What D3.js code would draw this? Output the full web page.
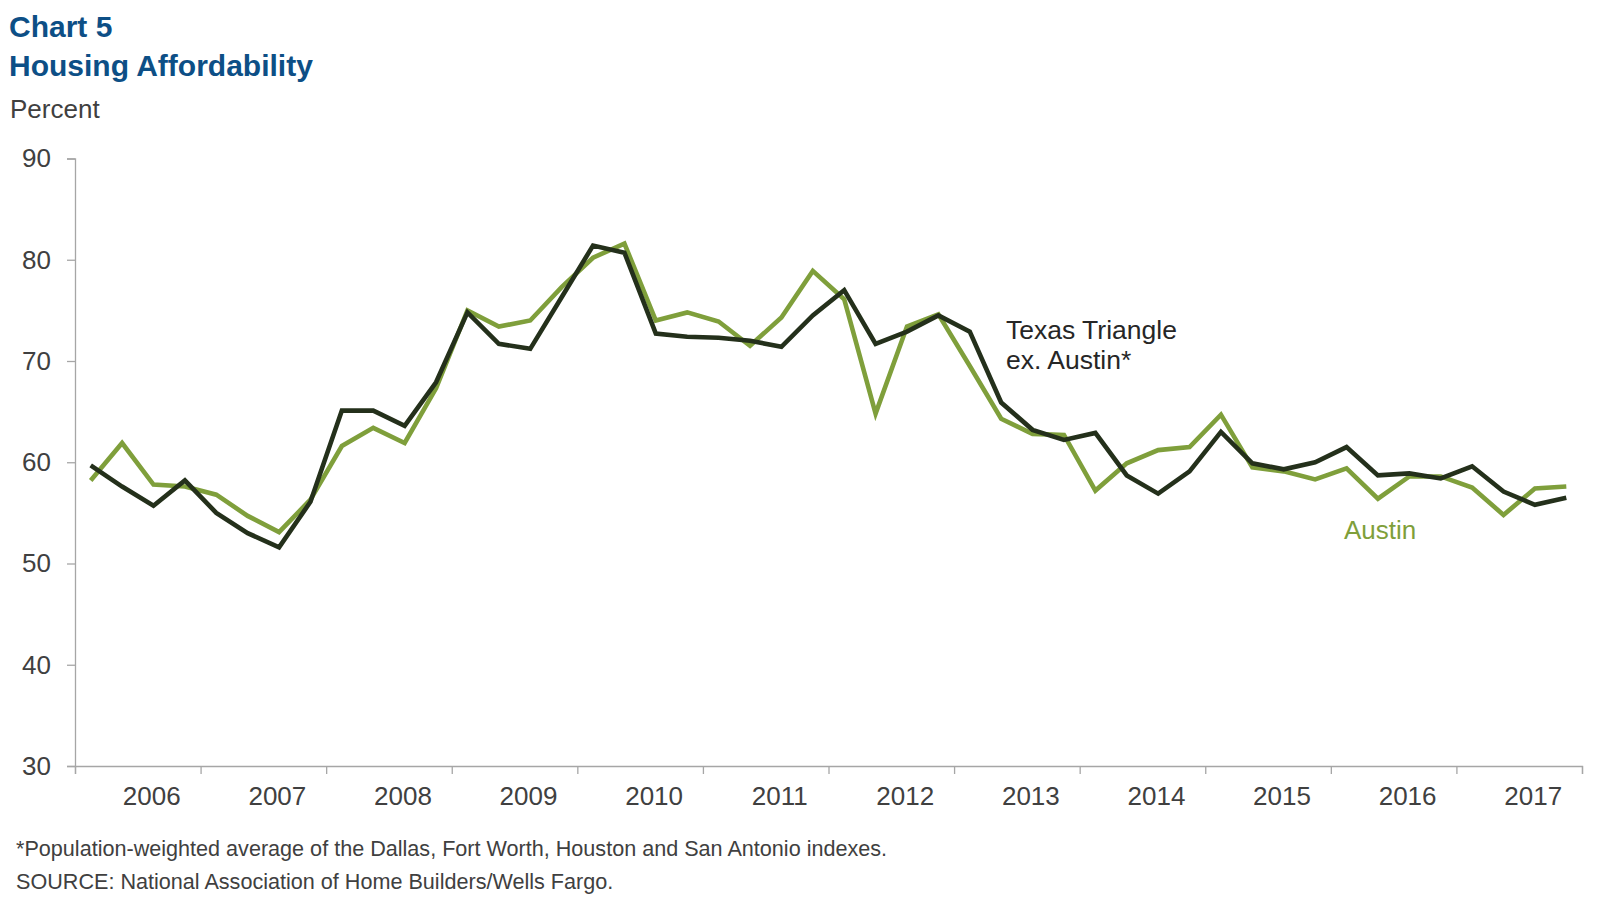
<!DOCTYPE html>
<html>
<head>
<meta charset="utf-8">
<script src="https://cdn.jsdelivr.net/npm/d3@7"></script>
<style>
  html, body { margin: 0; padding: 0; background: #fff; }
  svg { display: block; font-family: Arial, "Liberation Sans", sans-serif; }
</style>
</head>
<body>
<svg id="chart" width="1614" height="914"></svg>
<script>
// ---- Data (quarterly, 2006Q1 – 2017Q4) ----
const years = ["2006","2007","2008","2009","2010","2011","2012","2013","2014","2015","2016","2017"];
const austin = [
  58.2, 61.9, 57.8, 57.6,  56.8, 54.7, 53.1, 56.3,
  61.6, 63.4, 61.9, 67.3,  75.0, 73.4, 74.0, 77.3,
  80.2, 81.6, 74.0, 74.8,  73.9, 71.5, 74.3, 78.9,
  76.1, 64.8, 73.4, 74.6,  69.5, 64.3, 62.8, 62.7,
  57.2, 59.9, 61.2, 61.5,  64.7, 59.5, 59.1, 58.3,
  59.4, 56.4, 58.6, 58.6,  57.5, 54.8, 57.4, 57.6
];
const texasTriangle = [
  59.7, 57.6, 55.7, 58.2,  55.0, 53.0, 51.6, 56.1,
  65.1, 65.1, 63.6, 67.9,  74.8, 71.7, 71.2, 76.3,
  81.4, 80.7, 72.7, 72.4,  72.3, 72.0, 71.4, 74.5,
  77.0, 71.7, 72.9, 74.5,  72.9, 65.9, 63.2, 62.2,
  62.9, 58.7, 56.9, 59.1,  63.0, 59.9, 59.3, 60.0,
  61.5, 58.7, 58.9, 58.4,  59.6, 57.1, 55.8, 56.5
];
const yTicks = [30, 40, 50, 60, 70, 80, 90];

(function () {
  const svg = d3.select("#chart");
  const mLeft = 75, mRight = 1582, mTop = 158.5, mBottom = 766;
  const nQ = years.length * 4;

  const x = d3.scaleLinear().domain([0, nQ]).range([mLeft, mRight]);
  const y = d3.scaleLinear().domain([30, 90]).range([mBottom, mTop]);

  const axisColor = "#a6a6a6";
  const textColor = "#404040";
  const fs = 26;

  // Titles
  svg.append("text").attr("x", 9).attr("y", 37)
    .attr("font-size", 30).attr("font-weight", "bold").attr("fill", "#0d4f86")
    .text("Chart 5");
  svg.append("text").attr("x", 9).attr("y", 76)
    .attr("font-size", 30).attr("font-weight", "bold").attr("fill", "#0d4f86")
    .text("Housing Affordability");
  svg.append("text").attr("x", 10).attr("y", 118)
    .attr("font-size", fs).attr("fill", textColor)
    .text("Percent");

  // Y axis
  const yAxis = d3.axisLeft(y).tickValues(yTicks).tickSize(8).tickPadding(16);
  const gy = svg.append("g").attr("transform", `translate(${mLeft},0)`).call(yAxis);
  gy.select(".domain").attr("stroke", axisColor).attr("stroke-width", 1.3);
  gy.selectAll(".tick line").attr("stroke", axisColor).attr("stroke-width", 1.3);
  gy.selectAll(".tick text").attr("font-size", fs).attr("fill", textColor)
    .attr("font-family", "Arial, 'Liberation Sans', sans-serif");

  // X axis (year boundaries as ticks)
  const xAxis = d3.axisBottom(x).tickValues(d3.range(0, nQ + 1, 4)).tickSize(8).tickFormat("");
  const gx = svg.append("g").attr("transform", `translate(0,${mBottom})`).call(xAxis);
  gx.select(".domain").attr("stroke", axisColor).attr("stroke-width", 1.3);
  gx.selectAll(".tick line").attr("stroke", axisColor).attr("stroke-width", 1.3);

  // Year labels (slightly right of band centre, as in the original)
  svg.append("g").selectAll("text").data(years).join("text")
    .attr("x", (d, i) => x(i * 4 + 2) + 14)
    .attr("y", 805)
    .attr("text-anchor", "middle")
    .attr("font-size", fs).attr("fill", textColor)
    .text(d => d);

  // Lines
  const line = d3.line().x((d, i) => x(i + 0.5)).y(d => y(d)).curve(d3.curveLinear);

  svg.append("path").datum(austin)
    .attr("d", line).attr("fill", "none")
    .attr("stroke", "#7f9f3b").attr("stroke-width", 4.6)
    .attr("stroke-linejoin", "miter");

  svg.append("path").datum(texasTriangle)
    .attr("d", line).attr("fill", "none")
    .attr("stroke", "#24301b").attr("stroke-width", 4.6)
    .attr("stroke-linejoin", "miter");

  // Series labels
  svg.append("text").attr("x", 1006).attr("y", 339)
    .attr("font-size", 26.5).attr("fill", "#262626").text("Texas Triangle");
  svg.append("text").attr("x", 1006).attr("y", 369)
    .attr("font-size", 26.5).attr("fill", "#262626").text("ex. Austin*");
  svg.append("text").attr("x", 1344).attr("y", 539)
    .attr("font-size", 26).attr("fill", "#7f9f3b").text("Austin");

  // Footnotes
  svg.append("text").attr("x", 16).attr("y", 856)
    .attr("font-size", 21.6).attr("fill", textColor)
    .text("*Population-weighted average of the Dallas, Fort Worth, Houston and San Antonio indexes.");
  svg.append("text").attr("x", 16).attr("y", 889)
    .attr("font-size", 21.6).attr("fill", textColor)
    .text("SOURCE: National Association of Home Builders/Wells Fargo.");
})();
</script>
</body>
</html>
